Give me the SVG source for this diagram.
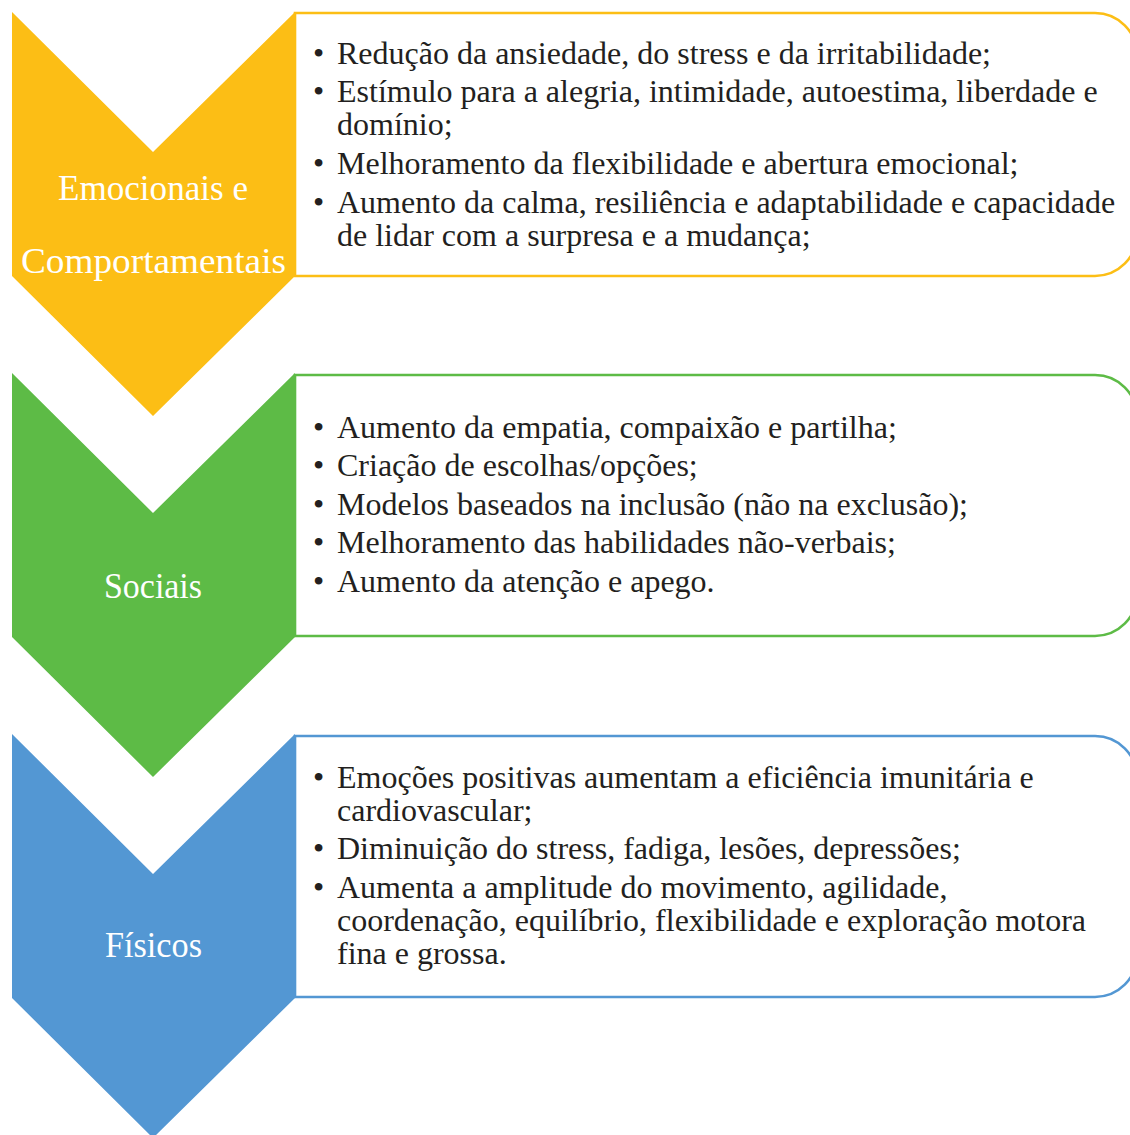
<svg xmlns="http://www.w3.org/2000/svg" width="1130" height="1135" viewBox="0 0 1130 1135">
<style>
.box{fill:#ffffff;stroke-width:2.6}
.lbl{font-family:"Liberation Serif","Times New Roman",serif;font-size:36px;fill:#ffffff;text-anchor:middle}
.txt{font-family:"Liberation Serif","Times New Roman",serif;font-size:32px;fill:#231f20}
.y{fill:#fcbe15}.ys{stroke:#fcbe15}
.g{fill:#5dbb46}.gs{stroke:#5dbb46}
.b{fill:#5397d3}.bs{stroke:#5397d3}
</style>
<rect width="1130" height="1135" fill="#ffffff"/>
<g id="emocionais">
<path class="box ys" d="M295 13 H1095 A42 42 0 0 1 1137 55 V234 A42 42 0 0 1 1095 276 H295 Z"/>
<polygon class="y" points="12,12 153,152 295,12 295,276 153,416 12,276"/>
<text class="lbl" x="153" y="200" textLength="190" lengthAdjust="spacingAndGlyphs">Emocionais e</text>
<text class="lbl" x="153.5" y="273" textLength="265" lengthAdjust="spacingAndGlyphs">Comportamentais</text>
<g class="txt">
<text x="313" y="64">•</text><text x="337" y="64">Redução da ansiedade, do stress e da irritabilidade;</text>
<text x="313" y="102">•</text><text x="337" y="102">Estímulo para a alegria, intimidade, autoestima, liberdade e</text>
<text x="337" y="135">domínio;</text>
<text x="313" y="174">•</text><text x="337" y="174">Melhoramento da flexibilidade e abertura emocional;</text>
<text x="313" y="213">•</text><text x="337" y="213">Aumento da calma, resiliência e adaptabilidade e capacidade</text>
<text x="337" y="246">de lidar com a surpresa e a mudança;</text>
</g>
</g>
<g id="sociais">
<path class="box gs" d="M295 375 H1095 A42 42 0 0 1 1137 417 V594 A42 42 0 0 1 1095 636 H295 Z"/>
<polygon class="g" points="12,373 153,513 295,373 295,637 153,777 12,637"/>
<text class="lbl" x="153" y="598" textLength="98" lengthAdjust="spacingAndGlyphs">Sociais</text>
<g class="txt">
<text x="313" y="438">•</text><text x="337" y="438">Aumento da empatia, compaixão e partilha;</text>
<text x="313" y="476">•</text><text x="337" y="476">Criação de escolhas/opções;</text>
<text x="313" y="515">•</text><text x="337" y="515">Modelos baseados na inclusão (não na exclusão);</text>
<text x="313" y="553">•</text><text x="337" y="553">Melhoramento das habilidades não-verbais;</text>
<text x="313" y="592">•</text><text x="337" y="592">Aumento da atenção e apego.</text>
</g>
</g>
<g id="fisicos">
<path class="box bs" d="M295 736 H1095 A42 42 0 0 1 1137 778 V955 A42 42 0 0 1 1095 997 H295 Z"/>
<polygon class="b" points="12,734 153,874 295,734 295,998 153,1138 12,998"/>
<text class="lbl" x="153.5" y="957" textLength="97" lengthAdjust="spacingAndGlyphs">Físicos</text>
<g class="txt">
<text x="313" y="788">•</text><text x="337" y="788">Emoções positivas aumentam a eficiência imunitária e</text>
<text x="337" y="821">cardiovascular;</text>
<text x="313" y="859">•</text><text x="337" y="859">Diminuição do stress, fadiga, lesões, depressões;</text>
<text x="313" y="898">•</text><text x="337" y="898">Aumenta a amplitude do movimento, agilidade,</text>
<text x="337" y="931">coordenação, equilíbrio, flexibilidade e exploração motora</text>
<text x="337" y="964">fina e grossa.</text>
</g>
</g>
</svg>
